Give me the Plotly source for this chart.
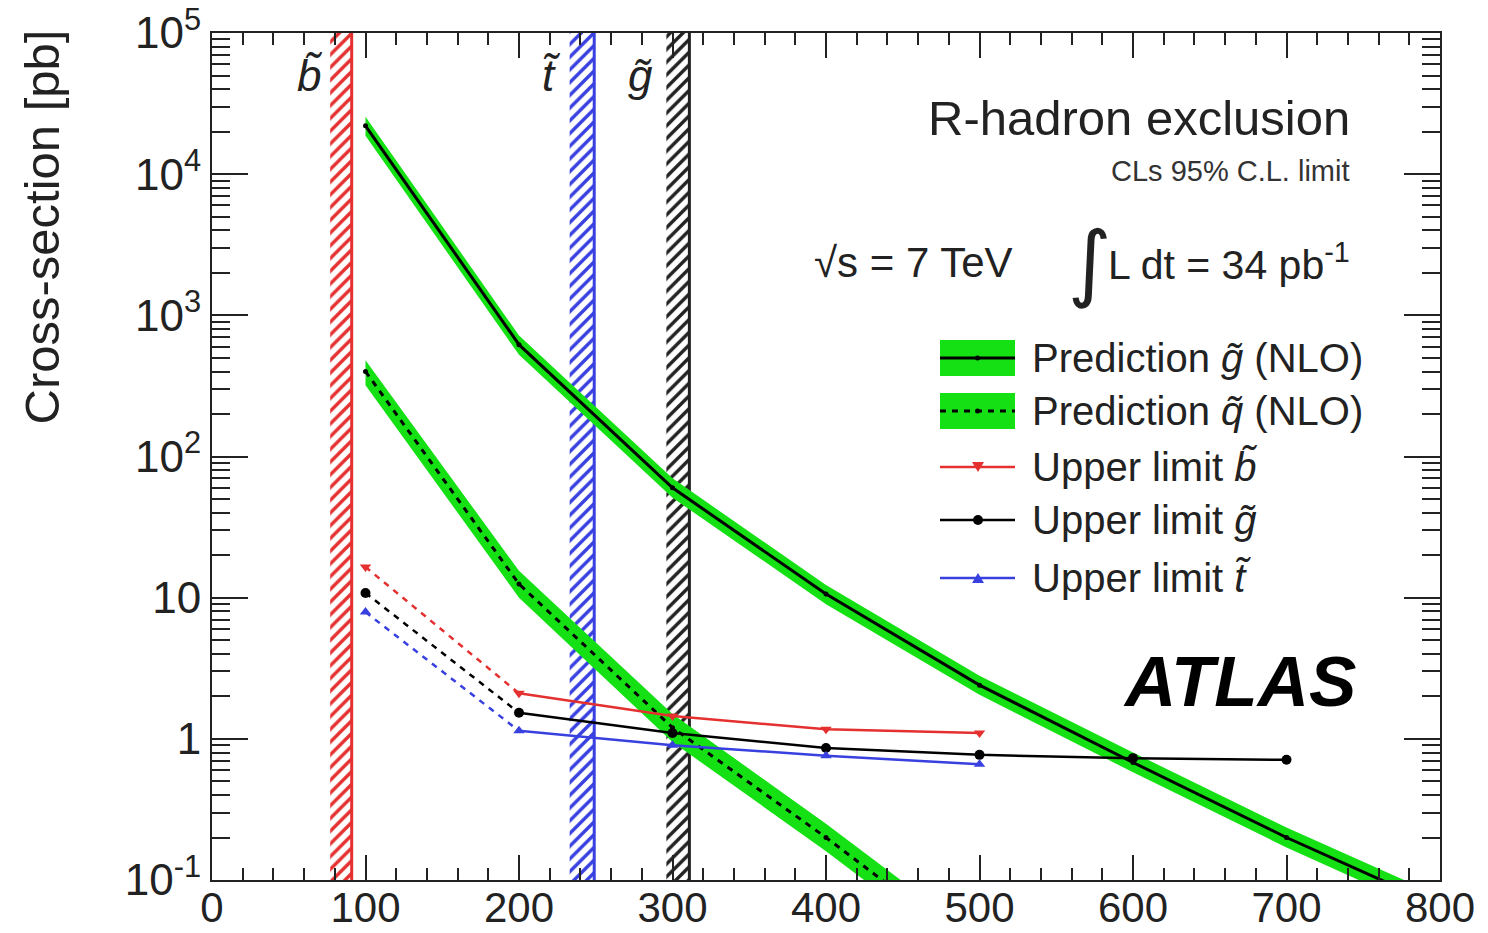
import plotly.graph_objects as go

# mass points [GeV]
mass = [100, 200, 300, 400, 500, 600, 700, 800]

# NLO gluino prediction and its band [pb]
gluino_pred = [22000, 620, 60, 10.6, 2.4, 0.68, 0.2, 0.065]
gluino_up = [25500, 720, 70, 12.3, 2.8, 0.8, 0.235, 0.077]
gluino_down = [18700, 525, 51, 9.0, 2.05, 0.58, 0.17, 0.055]

# NLO squark prediction and its band [pb]
squark_mass = [100, 200, 300, 400, 500]
squark_pred = [400, 12.5, 1.2, 0.2, 0.03]
squark_up = [480, 15.5, 1.5, 0.25, 0.038]
squark_down = [320, 10.0, 0.95, 0.16, 0.024]

# observed upper limits [pb]
sbottom_mass = [100, 200, 300, 400, 500]
sbottom_limit = [16.5, 2.1, 1.45, 1.17, 1.1]
gluino_mass = [100, 200, 300, 400, 500, 600, 700]
gluino_limit = [10.8, 1.53, 1.1, 0.86, 0.77, 0.73, 0.71]
stop_mass = [100, 200, 300, 400, 500]
stop_limit = [7.9, 1.14, 0.9, 0.76, 0.66]

# excluded mass ranges (hatched), lower and upper edge
excl_names = ["b", "t", "g"]
excl_lo = [77, 233, 296]
excl_hi = [91, 249, 311]
excl_colors = ["#e53030", "#3840e0", "#222222"]
excl_label_x = [64, 221, 279]

GREEN = "#14e014"
FONT = "Liberation Sans"

fig = go.Figure()

# hatched exclusion bands
for lo, hi, col in zip(excl_lo, excl_hi, excl_colors):
    fig.add_trace(go.Scatter(
        x=[lo, hi, hi, lo, lo], y=[0.05, 0.05, 2e5, 2e5, 0.05],
        mode="lines", fill="toself", fillcolor="rgba(0,0,0,0)",
        fillpattern=dict(shape="/", fgcolor=col, bgcolor="rgba(255,255,255,0)",
                         size=9, solidity=0.38, fgopacity=1),
        line=dict(width=0), hoverinfo="skip", showlegend=False))
    fig.add_trace(go.Scatter(
        x=[hi, hi], y=[0.05, 2e5], mode="lines",
        line=dict(color=col, width=3), hoverinfo="skip", showlegend=False))

# prediction bands
fig.add_trace(go.Scatter(
    x=squark_mass + squark_mass[::-1], y=squark_up + squark_down[::-1],
    fill="toself", fillcolor=GREEN, line=dict(width=0), mode="lines",
    hoverinfo="skip", showlegend=False))
fig.add_trace(go.Scatter(
    x=mass + mass[::-1], y=gluino_up + gluino_down[::-1],
    fill="toself", fillcolor=GREEN, line=dict(width=0), mode="lines",
    hoverinfo="skip", showlegend=False))

# prediction central values
fig.add_trace(go.Scatter(
    x=squark_mass, y=squark_pred, mode="lines+markers",
    line=dict(color="black", width=3, dash="6px,6px"),
    marker=dict(size=5, color="black"), name="Prediction squark (NLO)",
    showlegend=False))
fig.add_trace(go.Scatter(
    x=mass, y=gluino_pred, mode="lines+markers",
    line=dict(color="black", width=3),
    marker=dict(size=5, color="black"), name="Prediction gluino (NLO)",
    showlegend=False))

# upper limits: dashed between first two points, solid afterwards
limits = [
    (sbottom_mass, sbottom_limit, "#e53030", "triangle-down"),
    (gluino_mass, gluino_limit, "black", "circle"),
    (stop_mass, stop_limit, "#3840e0", "triangle-up"),
]
for mx, lim, col, sym in limits:
    fig.add_trace(go.Scatter(
        x=mx[:2], y=lim[:2], mode="lines",
        line=dict(color=col, width=2.5, dash="6px,6px"), showlegend=False))
    fig.add_trace(go.Scatter(
        x=mx[1:], y=lim[1:], mode="lines",
        line=dict(color=col, width=2.5), showlegend=False))
    fig.add_trace(go.Scatter(
        x=mx, y=lim, mode="markers",
        marker=dict(color=col, size=10, symbol=sym), showlegend=False))

# plot area in pixels
L, R, T, B = 212, 1440, 33, 880


def px(x):
    return (x - L) / (R - L)


def py(y):
    return (B - y) / (B - T)


anns = []
shapes = []

# particle labels above exclusion bands
for name, xl in zip(excl_names, excl_label_x):
    anns.append(dict(x=xl, y=4.70, xref="x", yref="y", text="<i>" + name + "\u0303</i>",
                     showarrow=False, font=dict(size=44, color="#222", family=FONT)))

# y axis title
anns.append(dict(x=px(41), y=py(28), xref="paper", yref="paper", text="Cross-section [pb]",
                 textangle=-90, showarrow=False, xanchor="center", yanchor="top",
                 font=dict(size=49, color="#222", family=FONT)))

# texts
anns.append(dict(x=px(1352), y=py(118), xref="paper", yref="paper", text="R-hadron exclusion",
                 showarrow=False, xanchor="right", yanchor="middle",
                 font=dict(size=49, color="#222", family=FONT)))
anns.append(dict(x=px(1352), y=py(171), xref="paper", yref="paper", text="CLs 95% C.L. limit",
                 showarrow=False, xanchor="right", yanchor="middle",
                 font=dict(size=29, color="#333", family=FONT)))
anns.append(dict(x=px(812), y=py(262), xref="paper", yref="paper", text="\u221as = 7 TeV",
                 showarrow=False, xanchor="left", yanchor="middle",
                 font=dict(size=42, color="#222", family=FONT)))
anns.append(dict(x=px(1090), y=py(262), xref="paper", yref="paper", text="\u222b",
                 showarrow=False, xanchor="center", yanchor="middle",
                 font=dict(size=84, color="#222", family="DejaVu Sans")))
anns.append(dict(x=px(1106), y=py(262), xref="paper", yref="paper",
                 text="L dt = 34 pb<sup>-1</sup>",
                 showarrow=False, xanchor="left", yanchor="middle",
                 font=dict(size=41, color="#222", family=FONT)))
anns.append(dict(x=px(1358), y=py(681), xref="paper", yref="paper", text="<b><i>ATLAS</i></b>",
                 showarrow=False, xanchor="right", yanchor="middle",
                 font=dict(size=71, color="black", family=FONT)))

# legend drawn by hand
leg_x0, leg_x1, leg_txt = 940, 1015, 1030
rows = [358, 411, 467, 520, 578]
leg_text = [
    "Prediction <i>g\u0303</i> (NLO)",
    "Prediction <i>q\u0303</i> (NLO)",
    "Upper limit <i>b\u0303</i>",
    "Upper limit <i>g\u0303</i>",
    "Upper limit <i>t\u0303</i>",
]
for r, t in zip(rows, leg_text):
    anns.append(dict(x=px(leg_txt), y=py(r), xref="paper", yref="paper", text=t,
                     showarrow=False, xanchor="left", yanchor="middle",
                     font=dict(size=40, color="#222", family=FONT)))

for i, r in enumerate(rows):
    if i < 2:
        shapes.append(dict(type="rect", xref="paper", yref="paper",
                           x0=px(leg_x0), x1=px(leg_x1), y0=py(r + 18), y1=py(r - 18),
                           fillcolor=GREEN, line=dict(width=0)))
        shapes.append(dict(type="line", xref="paper", yref="paper",
                           x0=px(leg_x0), x1=px(leg_x1), y0=py(r), y1=py(r),
                           line=dict(color="black", width=3, dash="solid" if i == 0 else "6px,6px")))
        shapes.append(dict(type="circle", xref="paper", yref="paper",
                           x0=px(975), x1=px(980), y0=py(r + 2.5), y1=py(r - 2.5),
                           fillcolor="black", line=dict(width=0)))
    else:
        col = limits[i - 2][2]
        shapes.append(dict(type="line", xref="paper", yref="paper",
                           x0=px(leg_x0), x1=px(leg_x1), y0=py(r), y1=py(r),
                           line=dict(color=col, width=2.5)))
        if i == 2:
            path = f"M {px(972)},{py(r - 5)} L {px(984)},{py(r - 5)} L {px(978)},{py(r + 5)} Z"
            shapes.append(dict(type="path", xref="paper", yref="paper", path=path,
                               fillcolor=col, line=dict(width=0)))
        elif i == 3:
            shapes.append(dict(type="circle", xref="paper", yref="paper",
                               x0=px(973), x1=px(983), y0=py(r + 5), y1=py(r - 5),
                               fillcolor=col, line=dict(width=0)))
        else:
            path = f"M {px(972)},{py(r + 5)} L {px(984)},{py(r + 5)} L {px(978)},{py(r - 5)} Z"
            shapes.append(dict(type="path", xref="paper", yref="paper", path=path,
                               fillcolor=col, line=dict(width=0)))

y_major = [0.1, 1, 10, 100, 1e3, 1e4, 1e5]
y_text = ["10<sup>-1</sup>", "1", "10", "10<sup>2</sup>", "10<sup>3</sup>",
          "10<sup>4</sup>", "10<sup>5</sup>"]
y_minor = [m * 10.0 ** e for e in range(-1, 5) for m in range(2, 10)]

fig.update_layout(
    width=1488, height=933,
    margin=dict(l=L, r=1488 - R, t=T, b=933 - B),
    paper_bgcolor="white", plot_bgcolor="white",
    font=dict(family=FONT, color="#222"),
    annotations=anns, shapes=shapes,
    showlegend=False,
)
fig.update_xaxes(
    range=[0, 800], showgrid=False, zeroline=False, automargin=False,
    showline=True, linecolor="#222", linewidth=2, mirror="ticks",
    ticks="inside", ticklen=25, tickwidth=2, tickcolor="#222",
    tickmode="linear", tick0=0, dtick=100, ticklabelstandoff=-10,
    tickfont=dict(size=42, family=FONT, color="#222"),
    minor=dict(ticks="inside", ticklen=12, tickwidth=2, tickcolor="#222",
               dtick=20, showgrid=False),
)
fig.update_yaxes(
    type="log", range=[-1, 5], showgrid=False, zeroline=False, automargin=False,
    showline=True, linecolor="#222", linewidth=2, mirror="ticks",
    ticks="inside", ticklen=36, tickwidth=2, tickcolor="#222",
    tickmode="array", tickvals=y_major, ticktext=y_text,
    tickfont=dict(size=44, family=FONT, color="#222"),
    minor=dict(ticks="inside", ticklen=18, tickwidth=2, tickcolor="#222",
               tickmode="array", tickvals=y_minor, showgrid=False),
)

# drop the browser's default page margin so the figure sits at the top-left corner
fig.write_html("out.html", config={"displayModeBar": False},
               post_script="document.body.style.margin='0';")
